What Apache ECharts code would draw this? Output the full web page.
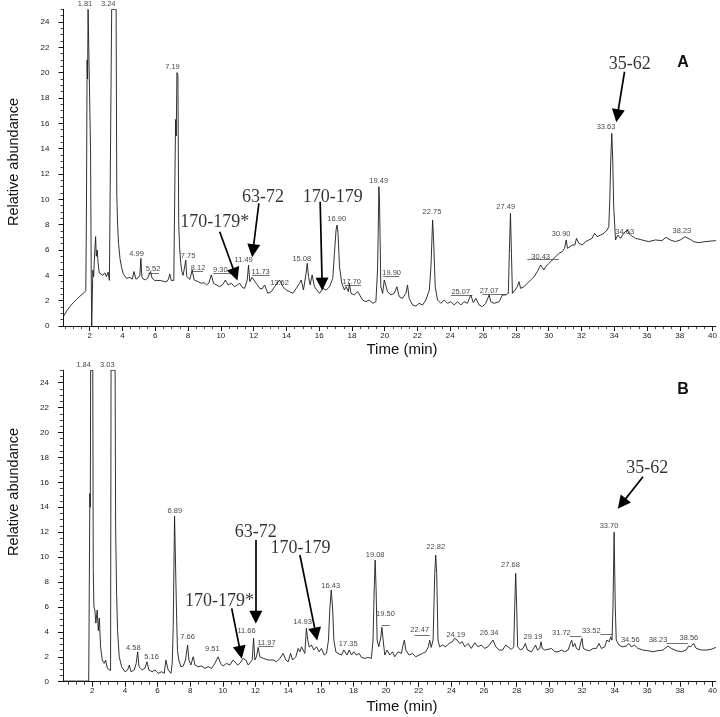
<!DOCTYPE html>
<html><head><meta charset="utf-8">
<script src="https://cdn.jsdelivr.net/npm/echarts@6/dist/echarts.min.js"></script>
<style>html,body{margin:0;padding:0;background:#fff}#c{width:720px;height:717px}</style>
</head><body><div id="c"></div><script>
// ---- Data (time in min, relative abundance) ----
const traceA = [[0.4,0.75],[0.6,1.2],[0.8,1.55],[1.0,1.85],[1.2,2.1],[1.4,2.35],[1.6,2.55],[1.76,2.8],
[1.8,9],[1.84,21],[1.87,19.5],[1.9,25],[2.02,25],[2.05,14],[2.09,4.5],[2.12,0],[2.16,0],[2.19,4.4],[2.24,3.9],[2.3,5.75],[2.36,7.05],[2.4,5.5],[2.46,6.0],[2.51,4.95],[2.58,4.2],[2.68,4.3],[2.8,4.0],[2.92,4.2],[3.02,3.9],[3.12,4.25],[3.2,3.6],[3.3,3.55],
[3.34,25],[3.61,25],[3.65,10.5],[3.7,8],[3.76,6.5],[3.85,5.3],[3.95,4.6],[4.05,4.1],[4.25,3.76],[4.45,3.84],[4.6,3.7],[4.7,4.3],[4.82,3.7],[4.95,3.8],[5.06,4.0],[5.12,5.34],[5.18,3.9],[5.27,3.7],[5.4,3.65],[5.55,3.8],[5.71,4.3],[5.8,3.8],[5.95,3.6],[6.08,3.58],[6.2,3.7],[6.3,3.6],[6.42,3.55],[6.56,3.5],[6.7,3.5],[6.8,3.7],[6.89,4.1],[6.97,3.6],[7.06,3.5],[7.13,3.6],
[7.2,12],[7.24,16.3],[7.28,15],[7.32,20],[7.38,19.8],[7.43,8],[7.48,6.3],[7.55,5.0],[7.62,4.3],[7.7,4.0],[7.8,3.9],[7.86,5.2],[7.92,3.9],[8.0,3.8],[8.11,3.68],[8.25,4.42],[8.37,3.63],[8.61,3.5],[8.82,3.37],[8.98,3.42],[9.12,3.24],[9.26,3.37],[9.42,4.03],[9.55,3.37],[9.73,3.24],[9.93,3.1],[10.13,3.29],[10.28,3.63],[10.44,3.24],[10.64,3.37],[10.84,3.1],[11.0,3.24],[11.15,3.37],[11.31,3.05],[11.45,2.97],[11.61,3.63],[11.69,4.8],[11.77,3.5],[11.9,3.84],[12.0,3.95],[12.16,3.37],[12.37,2.97],[12.51,2.92],[12.67,3.24],[12.87,2.58],[13.08,2.71],[13.28,3.1],[13.58,3.63],[13.79,3.1],[13.99,2.84],[14.19,2.71],[14.39,2.58],[14.6,2.97],[14.8,3.37],[14.9,3.63],[15.04,2.84],[15.2,4.16],[15.27,4.95],[15.35,3.9],[15.45,3.24],[15.57,4.03],[15.71,3.1],[15.86,2.84],[16.02,2.58],[16.22,2.97],[16.43,2.84],[16.63,3.1],[16.83,3.76],[16.93,5.74],[17.03,7.58],[17.09,7.97],[17.15,7.3],[17.24,4.68],[17.38,3.37],[17.54,2.84],[17.64,3.1],[17.78,2.71],[17.84,3.37],[17.94,2.58],[18.14,2.45],[18.35,2.71],[18.45,2.58],[18.65,2.05],[18.86,1.92],[19.06,2.05],[19.26,1.79],[19.46,1.92],[19.56,4.42],[19.6,7.3],[19.64,11.0],[19.68,9.95],[19.76,3.1],[19.87,2.58],[19.97,3.63],[20.07,3.76],[20.17,2.71],[20.37,2.45],[20.58,2.58],[20.74,3.1],[20.88,2.32],[21.08,2.18],[21.29,2.58],[21.39,3.24],[21.49,2.18],[21.7,1.66],[21.9,1.58],[22.1,1.79],[22.31,1.66],[22.51,2.05],[22.72,2.84],[22.82,4.68],[22.92,8.37],[22.98,6.79],[23.08,3.1],[23.22,2.05],[23.42,1.79],[23.63,2.05],[23.83,1.79],[24.03,1.92],[24.24,1.66],[24.44,1.92],[24.64,1.66],[24.84,1.92],[25.04,1.79],[25.25,2.45],[25.4,1.85],[25.56,2.18],[25.76,1.66],[25.96,1.53],[26.16,1.79],[26.37,2.45],[26.47,1.92],[26.67,1.79],[26.98,1.92],[27.18,2.45],[27.38,2.45],[27.54,2.58],[27.6,5.74],[27.67,8.89],[27.73,5.74],[27.79,2.58],[27.95,2.84],[28.09,3.1],[28.19,3.5],[28.29,2.97],[28.5,3.1],[28.7,3.37],[28.9,3.63],[29.11,3.89],[29.31,4.29],[29.51,4.82],[29.61,4.95],[29.71,4.42],[29.82,4.68],[30.02,4.95],[30.22,5.21],[30.43,5.47],[30.63,5.74],[30.83,5.87],[30.97,6.13],[31.07,6.79],[31.15,6.13],[31.27,6.26],[31.44,6.39],[31.6,6.39],[31.7,6.92],[31.84,6.53],[32.05,6.39],[32.25,6.66],[32.45,6.79],[32.65,6.92],[32.8,7.32],[32.96,7.05],[33.16,7.18],[33.37,7.32],[33.57,7.58],[33.67,7.84],[33.73,9.95],[33.79,13.1],[33.85,15.2],[33.91,13.1],[33.97,9.4],[34.08,6.79],[34.22,7.18],[34.38,6.92],[34.58,7.32],[34.78,7.58],[34.99,7.18],[35.29,6.92],[35.7,6.79],[36.1,6.66],[36.51,6.79],[36.91,6.74],[37.16,7.0],[37.42,6.79],[37.73,6.66],[38.03,6.79],[38.33,7.05],[38.5,6.92],[38.64,6.84],[38.84,6.66],[39.15,6.58],[39.55,6.66],[40.2,6.74]];

const traceB = [[0.2,0.05],[1.0,0.05],[1.78,0.05],[1.82,8],[1.85,15.1],[1.88,14],[1.9,25],[2.03,25],[2.06,9],[2.1,6],[2.16,5.75],[2.22,4.7],[2.3,5.75],[2.37,4.1],[2.43,5.1],[2.51,2.8],[2.61,1.74],[2.73,1.47],[2.82,1.74],[2.92,1.07],[3.04,0.94],[3.12,0.9],[3.15,25],[3.4,25],[3.43,12.4],[3.49,7.1],[3.55,4.1],[3.65,2.0],[3.8,1.2],[4.0,0.8],[4.16,0.94],[4.27,1.34],[4.37,0.8],[4.57,0.94],[4.69,1.47],[4.78,2.4],[4.86,1.2],[5.06,0.94],[5.22,1.07],[5.35,1.6],[5.47,0.94],[5.67,0.8],[5.84,0.94],[6.04,0.67],[6.24,0.8],[6.41,0.67],[6.51,1.74],[6.57,1.87],[6.65,0.94],[6.82,0.67],[6.9,1.5],[6.96,4.5],[7.0,9],[7.04,13.3],[7.12,13.3],[7.17,5],[7.22,2.5],[7.3,1.74],[7.43,1.2],[7.57,1.26],[7.71,1.74],[7.84,2.94],[7.92,1.74],[8.04,1.34],[8.18,2.0],[8.29,1.34],[8.49,1.2],[8.69,1.26],[8.9,1.07],[9.1,1.2],[9.31,1.07],[9.51,1.47],[9.71,2.0],[9.86,1.47],[10.02,1.26],[10.22,1.47],[10.43,1.34],[10.63,1.74],[10.73,1.87],[10.9,1.34],[11.04,1.47],[11.24,1.87],[11.41,1.74],[11.55,1.34],[11.65,1.2],[11.8,1.74],[11.88,3.48],[11.96,1.74],[12.06,2.0],[12.16,2.75],[12.27,2.0],[12.47,1.87],[12.78,1.74],[13.08,1.74],[13.29,1.6],[13.49,1.87],[13.7,2.27],[13.86,1.74],[14.0,1.6],[14.15,2.27],[14.27,1.74],[14.47,2.0],[14.61,2.67],[14.72,2.4],[14.82,2.8],[14.92,2.54],[15.02,2.27],[15.12,4.28],[15.2,3.34],[15.29,2.8],[15.43,2.94],[15.57,2.54],[15.74,2.8],[15.9,2.4],[16.04,2.67],[16.21,2.14],[16.35,2.27],[16.47,3.34],[16.55,5.75],[16.64,7.35],[16.72,6.0],[16.8,3.34],[16.92,2.4],[17.06,2.27],[17.27,2.14],[17.41,2.54],[17.53,2.67],[17.61,2.14],[17.74,2.54],[17.88,2.14],[18.02,2.4],[18.19,2.14],[18.35,2.27],[18.49,1.95],[18.7,1.87],[18.9,1.95],[19.1,1.87],[19.2,3.34],[19.27,7.35],[19.33,9.76],[19.39,7.35],[19.45,3.34],[19.55,2.8],[19.68,3.6],[19.74,4.36],[19.82,3.34],[19.92,2.14],[20.06,2.54],[20.23,2.14],[20.39,2.4],[20.53,2.0],[20.74,2.4],[20.94,2.27],[21.04,2.94],[21.12,3.34],[21.21,2.54],[21.41,2.14],[21.61,2.27],[21.82,2.0],[22.02,2.14],[22.23,2.27],[22.43,2.4],[22.59,2.8],[22.67,3.34],[22.76,2.75],[22.88,3.34],[22.98,8.7],[23.04,10.16],[23.1,8.7],[23.18,3.34],[23.28,2.8],[23.45,2.94],[23.65,2.8],[23.86,3.07],[24.06,3.2],[24.2,3.48],[24.35,3.34],[24.51,3.07],[24.67,3.2],[24.82,2.8],[25.02,3.07],[25.22,2.67],[25.43,3.13],[25.63,2.8],[25.84,2.94],[26.04,2.67],[26.24,2.8],[26.35,2.8],[26.55,3.34],[26.72,2.8],[26.92,2.54],[27.13,2.54],[27.33,2.94],[27.47,2.8],[27.68,2.6],[27.82,2.8],[27.88,6.0],[27.94,8.7],[28.0,6.0],[28.06,2.8],[28.23,2.54],[28.39,2.67],[28.53,3.07],[28.66,2.54],[28.9,2.4],[29.04,2.67],[29.16,2.94],[29.27,2.54],[29.41,2.67],[29.49,3.2],[29.57,2.67],[29.72,2.54],[29.92,2.6],[30.13,2.67],[30.33,2.4],[30.53,2.4],[30.74,2.54],[30.94,2.4],[31.15,2.54],[31.29,3.07],[31.37,3.34],[31.45,2.8],[31.56,3.07],[31.66,2.67],[31.82,2.54],[31.94,3.2],[32.0,3.48],[32.08,2.67],[32.27,2.54],[32.47,2.49],[32.68,2.67],[32.88,2.67],[33.04,3.07],[33.19,2.67],[33.39,2.8],[33.53,3.34],[33.66,3.2],[33.76,3.6],[33.84,3.34],[33.9,6.0],[33.97,12.0],[34.04,6.0],[34.1,3.34],[34.27,2.94],[34.47,2.8],[34.71,2.86],[34.88,3.07],[35.02,2.8],[35.22,2.94],[35.43,2.67],[35.73,2.54],[36.04,2.49],[36.35,2.4],[36.65,2.49],[36.96,2.54],[37.27,2.86],[37.47,2.67],[37.78,2.49],[38.08,2.4],[38.39,2.54],[38.53,2.86],[38.66,2.8],[38.84,3.07],[39.0,2.67],[39.31,2.54],[39.61,2.54],[39.92,2.6],[40.2,2.75]];

// peak labels: [text, time, abundance]
const peakLabelsA = [['1.81',1.71,25.4],['3.24',3.13,25.4],['4.99',4.86,5.66],['5.52',5.87,4.5],['7.19',7.05,20.47],['7.75',8.0,5.55],['8.12',8.61,4.6],['9.30',9.97,4.42],['11.49',11.39,5.23],['11.73',12.43,4.29],['13.62',13.58,3.37],['15.08',14.94,5.29],['16.90',17.07,8.45],['17.70',17.98,3.5],['19.49',19.63,11.44],['19.90',20.42,4.16],['22.75',22.88,9.02],['25.07',24.64,2.71],['27.07',26.37,2.76],['27.49',27.38,9.39],['30.43',29.51,5.47],['30.90',30.76,7.24],['33.63',33.5,15.7],['34.63',34.64,7.4],['38.23',38.13,7.52]];
const peakLabelsB = [['1.84',1.47,25.4],['3.03',2.92,25.4],['4.58',4.51,2.67],['5.16',5.63,2.0],['6.89',7.06,13.7],['7.66',7.84,3.56],['9.51',9.35,2.6],['11.66',11.45,4.09],['11.97',12.68,3.13],['14.93',14.88,4.81],['16.43',16.61,7.67],['17.35',17.68,3.0],['19.08',19.33,10.16],['19.50',19.96,5.43],['22.47',22.06,4.14],['22.82',23.04,10.83],['24.19',24.27,3.74],['26.34',26.31,3.93],['27.68',27.62,9.36],['29.19',29.0,3.61],['31.72',30.74,3.88],['33.52',32.57,4.06],['33.70',33.66,12.5],['34.56',34.96,3.34],['38.23',36.66,3.34],['38.56',38.55,3.48]];

// label leader lines
const leadersA = [[[5.57,4.2],[6.22,4.2]],[[8.31,4.29],[8.92,4.29]],[[9.53,4.16],[10.84,4.16]],[[11.9,4.03],[12.97,4.03]],[[17.54,3.24],[18.55,3.24]],[[19.91,3.95],[20.88,3.95]],[[24.03,2.45],[25.35,2.45]],[[25.96,2.5],[27.38,2.5]],[[28.7,5.26],[30.63,5.26]]];
const leadersB = [[[12.2,2.86],[13.1,2.86]],[[19.72,4.55],[20.23,4.55]],[[21.75,3.75],[22.68,3.75]],[[31.25,3.66],[31.98,3.66]],[[33.13,3.8],[33.9,3.8]],[[37.17,3.07],[38.49,3.07]]];

// annotation arrows: text, text position, arrow start, arrow head centre
const arrowsA = [
  {text:'170-179*', at:[9.63,8.2], from:[9.93,7.44], to:[10.88,4.07]},
  {text:'63-72', at:[12.57,10.2], from:[12.32,9.68], to:[11.96,5.94]},
  {text:'170-179', at:[16.83,10.2], from:[16.06,9.81], to:[16.18,3.31]},
  {text:'35-62', at:[34.95,20.68], from:[34.63,20.07], to:[34.19,16.59]}
];
const arrowsB = [
  {text:'170-179*', at:[9.8,6.48], from:[10.54,5.89], to:[11.08,2.35]},
  {text:'63-72', at:[12.02,11.96], from:[12.02,11.37], to:[12.02,5.17]},
  {text:'170-179', at:[14.76,10.7], from:[14.72,10.17], to:[15.7,3.82]},
  {text:'35-62', at:[36.0,17.13], from:[35.74,16.45], to:[34.44,14.29]}
];

const xTickLabels = [2,4,6,8,10,12,14,16,18,20,22,24,26,28,30,32,34,36,38,40];
const yTickLabels = [0,2,4,6,8,10,12,14,16,18,20,22,24];
const xMinorTicks = []; for (let v = 0.5; v <= 40; v += 0.5) xMinorTicks.push(v);
const yMinorTicks = []; for (let v = 0; v <= 25; v += 0.5) yMinorTicks.push(v);

// ---- Chart ----
const FONT = 'Liberation Sans';
const INK = '#151515';
const chart = echarts.init(document.getElementById('c'), null, {renderer:'canvas'});

function xAxes(g, min, max, labelMargin) {
  return [
    {type:'value', gridIndex:g, min:min, max:max, position:'bottom',
     axisLine:{show:true, onZero:false, lineStyle:{color:INK, width:1}},
     axisTick:{show:true, customValues:xTickLabels, length:5, lineStyle:{color:INK, width:1}},
     axisLabel:{show:true, customValues:xTickLabels, fontSize:8, color:'#222', fontFamily:FONT, margin:labelMargin},
     splitLine:{show:false}},
    {type:'value', gridIndex:g, min:min, max:max, position:'bottom',
     axisLine:{show:false}, axisLabel:{show:false}, splitLine:{show:false},
     axisTick:{show:true, customValues:xMinorTicks, length:3, lineStyle:{color:INK, width:0.8}}}
  ];
}
function yAxes(g) {
  return [
    {type:'value', gridIndex:g, min:0, max:25, position:'left',
     axisLine:{show:true, onZero:false, lineStyle:{color:INK, width:1}},
     axisTick:{show:true, customValues:yTickLabels, length:5, lineStyle:{color:INK, width:1}},
     axisLabel:{show:true, customValues:yTickLabels, fontSize:8, color:'#222', fontFamily:FONT, margin:14},
     splitLine:{show:false}},
    {type:'value', gridIndex:g, min:0, max:25, position:'left',
     axisLine:{show:false}, axisLabel:{show:false}, splitLine:{show:false},
     axisTick:{show:true, customValues:yMinorTicks, length:3, lineStyle:{color:INK, width:0.8}}}
  ];
}

function panelSeries(xi, yi, trace, labels, leaders, arrows) {
  return [
    {type:'line', xAxisIndex:xi, yAxisIndex:yi, data:trace, symbol:'none', silent:true,
     lineStyle:{color:'#1c1c1c', width:0.9}, clip:true, z:3},
    {type:'scatter', xAxisIndex:xi, yAxisIndex:yi, clip:false, silent:true, symbolSize:1,
     itemStyle:{color:'rgba(0,0,0,0)'},
     data:labels.map(l => ({name:l[0], value:[l[1], l[2]]})),
     label:{show:true, position:'inside', formatter:'{b}', fontSize:7.5, color:'#111', fontFamily:FONT}, z:4},
    {type:'lines', coordinateSystem:'cartesian2d', xAxisIndex:xi, yAxisIndex:yi, silent:true, polyline:false,
     lineStyle:{color:'#333', width:0.7, opacity:1, curveness:0},
     data:leaders.map(c => ({coords:c})), z:4},
    {type:'lines', coordinateSystem:'cartesian2d', xAxisIndex:xi, yAxisIndex:yi, silent:true, polyline:false,
     symbol:['none','triangle'], symbolSize:13,
     lineStyle:{color:'#000', width:1.7, opacity:1, curveness:0},
     data:arrows.map(a => ({coords:[a.from, a.to]})), z:5},
    {type:'scatter', xAxisIndex:xi, yAxisIndex:yi, clip:false, silent:true, symbolSize:1,
     itemStyle:{color:'rgba(0,0,0,0)'},
     data:arrows.map(a => ({name:a.text, value:a.at})),
     label:{show:true, position:'inside', formatter:'{b}', fontSize:18, color:'#000', fontFamily:'Liberation Serif'}, z:6}
  ];
}

function txt(x, y, text, font, rot) {
  return {type:'text', x:x, y:y, rotation:rot || 0, silent:true,
    style:{text:text, font:font, fill:'#111', textAlign:'center', textVerticalAlign:'middle', align:'center', verticalAlign:'middle'}};
}

chart.setOption({
  animation:false,
  backgroundColor:'#fff',
  grid:[
    {left:63.5, top:9.3, width:652.5, height:316.7},
    {left:62.9, top:370.2, width:653.2, height:311.5}
  ],
  xAxis:[...xAxes(0, 0.4, 40.2, 6), ...xAxes(1, 0.2, 40.2, 5)],
  yAxis:[...yAxes(0), ...yAxes(1)],
  series:[
    ...panelSeries(0, 0, traceA, peakLabelsA, leadersA, arrowsA),
    ...panelSeries(2, 2, traceB, peakLabelsB, leadersB, arrowsB)
  ],
  graphic:[
    txt(14, 162, 'Relative abundance', '14.5px "Liberation Sans"', Math.PI/2),
    txt(14, 492, 'Relative abundance', '14.5px "Liberation Sans"', Math.PI/2),
    txt(402, 350, 'Time (min)', '15px "Liberation Sans"'),
    txt(402, 707, 'Time (min)', '15px "Liberation Sans"'),
    txt(683, 63, 'A', 'bold 16px "Liberation Sans"'),
    txt(683, 390, 'B', 'bold 16px "Liberation Sans"')
  ]
});
</script></body></html>
